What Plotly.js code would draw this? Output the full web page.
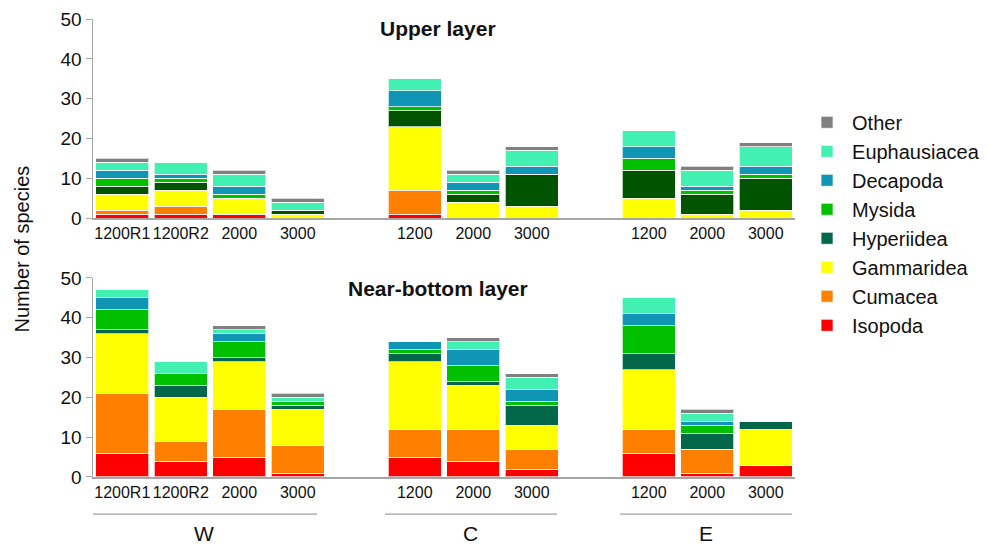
<!DOCTYPE html>
<html>
<head>
<meta charset="utf-8">
<script src="https://cdn.plot.ly/plotly-3.0.1.min.js"></script>
<style>html,body{margin:0;padding:0;background:#fff}#chart{width:987px;height:545px}</style>
</head>
<body>
<div id="chart"></div>
<script>
// Sites (tick labels) and their region groups
const categories = ['1200R1','1200R2','2000','3000','1200','2000','3000','1200','2000','3000'];
const groups     = ['W','W','W','W','C','C','C','E','E','E'];
const groupNames = ['W','C','E'];

// Taxa, bottom to top of each stack
const taxa = ['Isopoda','Cumacea','Gammaridea','Hyperiidea','Mysida','Decapoda','Euphausiacea','Other'];

// Upper layer: number of species
const upperIsopoda      = [1,1,1,0, 1,0,0, 0,0,0];
const upperCumacea      = [1,2,0,0, 6,0,0, 0,0,0];
const upperGammaridea   = [4,4,4,1, 16,4,3, 5,1,2];
const upperHyperiidea   = [2,2,0,1, 4,2,8, 7,5,8];
const upperMysida       = [2,1,1,0, 1,1,0, 3,1,1];
const upperDecapoda     = [2,1,2,0, 4,2,2, 3,1,2];
const upperEuphausiacea = [2,3,3,2, 3,2,4, 4,4,5];
const upperOther        = [1,0,1,1, 0,1,1, 0,1,1];

// Near-bottom layer: number of species
const lowerIsopoda      = [6,4,5,1, 5,4,2, 6,1,3];
const lowerCumacea      = [15,5,12,7, 7,8,5, 6,6,0];
const lowerGammaridea   = [15,11,12,9, 17,11,6, 15,0,9];
const lowerHyperiidea   = [1,3,1,1, 2,1,5, 4,4,2];
const lowerMysida       = [5,3,4,1, 1,4,1, 7,2,0];
const lowerDecapoda     = [3,0,2,0, 2,4,3, 3,1,0];
const lowerEuphausiacea = [2,3,1,1, 0,2,3, 4,2,0];
const lowerOther        = [0,0,1,1, 0,1,1, 0,1,0];

const upperData = [upperIsopoda, upperCumacea, upperGammaridea, upperHyperiidea, upperMysida, upperDecapoda, upperEuphausiacea, upperOther];
const lowerData = [lowerIsopoda, lowerCumacea, lowerGammaridea, lowerHyperiidea, lowerMysida, lowerDecapoda, lowerEuphausiacea, lowerOther];

const colors = {
  Isopoda:'#ff0000', Cumacea:'#ff8000', Gammaridea:'#ffff00', Hyperiidea:'#03684a',
  Mysida:'#00c000', Decapoda:'#1096b4', Euphausiacea:'#42f0b2', Other:'#808080'
};
const upperColors = Object.assign({}, colors, {Hyperiidea:'#005400'});

// x positions: index plus a two-slot gap between region groups
const xpos = categories.map((c,i) => i + groupNames.indexOf(groups[i]));

const FONT = 'Liberation Sans, Arial, sans-serif';
const traces = [];
taxa.forEach((t,k) => {
  traces.push({
    type:'bar', name:t, x:xpos, y:lowerData[k], xaxis:'x', yaxis:'y',
    width:0.9, marker:{color:colors[t], line:{color:'rgba(255,255,255,0.7)', width:1}},
    showlegend:true, legendrank:100 - k, hoverinfo:'name+y'
  });
});
taxa.forEach((t,k) => {
  traces.push({
    type:'bar', name:t, x:xpos, y:upperData[k], xaxis:'x2', yaxis:'y2',
    width:0.9, marker:{color:upperColors[t], line:{color:'rgba(255,255,255,0.7)', width:1}},
    showlegend:false, hoverinfo:'name+y'
  });
});

const xAxisCommon = {
  range:[-0.5, 11.5], tickvals:xpos, ticktext:categories, tickangle:0, showline:true, linecolor:'#a6a6a6',
  linewidth:1.5, ticks:'', showgrid:false, zeroline:false, tickfont:{family:FONT, size:16, color:'#111'}, fixedrange:true
};
const yAxisCommon = {
  range:[0,50], dtick:10, showline:true, linecolor:'#a6a6a6', linewidth:1.5, ticks:'outside', ticklen:6,
  tickcolor:'#a6a6a6', showgrid:false, zeroline:false, tickfont:{family:FONT, size:19, color:'#111'}, fixedrange:true
};

// group underlines and labels
const groupSpans = {W:[-0.53,3.33], C:[4.49,7.43], E:[8.51,11.45]};
const shapes = groupNames.map(g => ({
  type:'line', xref:'x', yref:'paper', x0:groupSpans[g][0], x1:groupSpans[g][1], y0:-0.081, y1:-0.081,
  line:{color:'#8c8c8c', width:1}
}));
const annotations = groupNames.map(g => ({
  xref:'x', yref:'paper', x:(groupSpans[g][0]+groupSpans[g][1])/2, y:-0.124, text:g, showarrow:false,
  font:{family:FONT, size:21, color:'#111'}, xanchor:'center', yanchor:'middle'
}));
annotations.push(
  {xref:'x2', yref:'paper', x:5.4, y:1.0, yshift:-9, text:'<b>Upper layer</b>', showarrow:false,
   font:{family:FONT, size:21, color:'#111'}, xanchor:'center', yanchor:'middle'},
  {xref:'x', yref:'paper', x:5.4, y:0.411, text:'<b>Near-bottom layer</b>', showarrow:false,
   font:{family:FONT, size:21, color:'#111'}, xanchor:'center', yanchor:'middle'},
  {xref:'paper', yref:'paper', x:-0.101, y:0.497, text:'Number of species', showarrow:false, textangle:-90,
   font:{family:FONT, size:20, color:'#111'}, xanchor:'center', yanchor:'middle'}
);

const layout = {
  width:987, height:545, paper_bgcolor:'#fff', plot_bgcolor:'#fff',
  margin:{l:93, r:192, t:19, b:68, autoexpand:false},
  barmode:'stack', bargap:0.1,
  xaxis: Object.assign({}, xAxisCommon, {anchor:'y', domain:[0,1]}),
  yaxis: Object.assign({}, yAxisCommon, {anchor:'x', domain:[0,0.4345]}),
  xaxis2: Object.assign({}, xAxisCommon, {anchor:'y2', domain:[0,1]}),
  yaxis2: Object.assign({}, yAxisCommon, {anchor:'x2', domain:[0.565,1]}),
  legend:{xref:'container', yref:'container', x:0.8126, xanchor:'left', y:0.8114, yanchor:'top',
          traceorder:'normal', itemwidth:40,
          font:{family:FONT, size:20, color:'#111'}, bgcolor:'rgba(0,0,0,0)'},
  shapes:shapes, annotations:annotations, showlegend:true
};

Plotly.newPlot('chart', traces, layout, {displayModeBar:false, staticPlot:true});
</script>
</body>
</html>
